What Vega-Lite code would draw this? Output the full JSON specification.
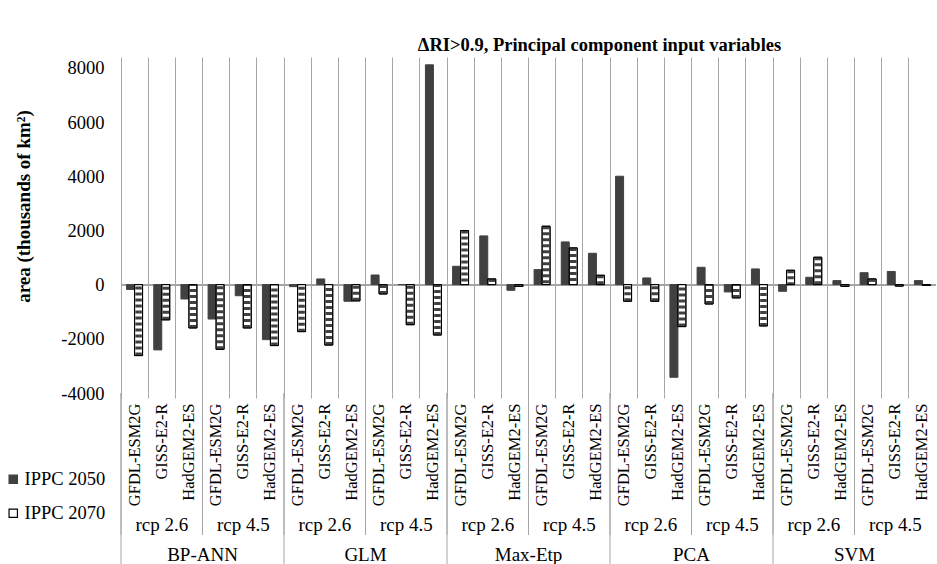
{
  "$schema": "https://vega.github.io/schema/vega-lite/v6.json",
  "width": 815,
  "height": 336,
  "autosize": {"type": "none"},
  "padding": {"left": 121, "top": 57, "right": 1, "bottom": 171},
  "background": "white",
  "title": {
    "text": "ΔRI>0.9, Principal component input variables",
    "font": "Liberation Serif, Times New Roman, serif",
    "fontSize": 18.5,
    "fontWeight": "bold",
    "color": "black",
    "anchor": "middle",
    "frame": "group",
    "dx": 71,
    "offset": 3
  },
  "data": {
    "values": [
      {"m": "BP-ANN", "r": "rcp 2.6", "g": "GFDL-ESM2G", "k": "BP-ANN|rcp 2.6|GFDL-ESM2G", "IPPC 2050": -180, "IPPC 2070": -2620},
      {"m": "BP-ANN", "r": "rcp 2.6", "g": "GISS-E2-R", "k": "BP-ANN|rcp 2.6|GISS-E2-R", "IPPC 2050": -2410, "IPPC 2070": -1300},
      {"m": "BP-ANN", "r": "rcp 2.6", "g": "HadGEM2-ES", "k": "BP-ANN|rcp 2.6|HadGEM2-ES", "IPPC 2050": -530, "IPPC 2070": -1600},
      {"m": "BP-ANN", "r": "rcp 4.5", "g": "GFDL-ESM2G", "k": "BP-ANN|rcp 4.5|GFDL-ESM2G", "IPPC 2050": -1270, "IPPC 2070": -2390},
      {"m": "BP-ANN", "r": "rcp 4.5", "g": "GISS-E2-R", "k": "BP-ANN|rcp 4.5|GISS-E2-R", "IPPC 2050": -410, "IPPC 2070": -1600},
      {"m": "BP-ANN", "r": "rcp 4.5", "g": "HadGEM2-ES", "k": "BP-ANN|rcp 4.5|HadGEM2-ES", "IPPC 2050": -2030, "IPPC 2070": -2250},
      {"m": "GLM", "r": "rcp 2.6", "g": "GFDL-ESM2G", "k": "GLM|rcp 2.6|GFDL-ESM2G", "IPPC 2050": -75, "IPPC 2070": -1735},
      {"m": "GLM", "r": "rcp 2.6", "g": "GISS-E2-R", "k": "GLM|rcp 2.6|GISS-E2-R", "IPPC 2050": 210, "IPPC 2070": -2230},
      {"m": "GLM", "r": "rcp 2.6", "g": "HadGEM2-ES", "k": "GLM|rcp 2.6|HadGEM2-ES", "IPPC 2050": -615, "IPPC 2070": -600},
      {"m": "GLM", "r": "rcp 4.5", "g": "GFDL-ESM2G", "k": "GLM|rcp 4.5|GFDL-ESM2G", "IPPC 2050": 355, "IPPC 2070": -345},
      {"m": "GLM", "r": "rcp 4.5", "g": "GISS-E2-R", "k": "GLM|rcp 4.5|GISS-E2-R", "IPPC 2050": 0, "IPPC 2070": -1480},
      {"m": "GLM", "r": "rcp 4.5", "g": "HadGEM2-ES", "k": "GLM|rcp 4.5|HadGEM2-ES", "IPPC 2050": 8110, "IPPC 2070": -1860},
      {"m": "Max-Etp", "r": "rcp 2.6", "g": "GFDL-ESM2G", "k": "Max-Etp|rcp 2.6|GFDL-ESM2G", "IPPC 2050": 677, "IPPC 2070": 1995},
      {"m": "Max-Etp", "r": "rcp 2.6", "g": "GISS-E2-R", "k": "Max-Etp|rcp 2.6|GISS-E2-R", "IPPC 2050": 1797, "IPPC 2070": 210},
      {"m": "Max-Etp", "r": "rcp 2.6", "g": "HadGEM2-ES", "k": "Max-Etp|rcp 2.6|HadGEM2-ES", "IPPC 2050": -210, "IPPC 2070": -70},
      {"m": "Max-Etp", "r": "rcp 4.5", "g": "GFDL-ESM2G", "k": "Max-Etp|rcp 4.5|GFDL-ESM2G", "IPPC 2050": 554, "IPPC 2070": 2155},
      {"m": "Max-Etp", "r": "rcp 4.5", "g": "GISS-E2-R", "k": "Max-Etp|rcp 4.5|GISS-E2-R", "IPPC 2050": 1575, "IPPC 2070": 1355},
      {"m": "Max-Etp", "r": "rcp 4.5", "g": "HadGEM2-ES", "k": "Max-Etp|rcp 4.5|HadGEM2-ES", "IPPC 2050": 1157, "IPPC 2070": 345},
      {"m": "PCA", "r": "rcp 2.6", "g": "GFDL-ESM2G", "k": "PCA|rcp 2.6|GFDL-ESM2G", "IPPC 2050": 4000, "IPPC 2070": -615},
      {"m": "PCA", "r": "rcp 2.6", "g": "GISS-E2-R", "k": "PCA|rcp 2.6|GISS-E2-R", "IPPC 2050": 246, "IPPC 2070": -615},
      {"m": "PCA", "r": "rcp 2.6", "g": "HadGEM2-ES", "k": "PCA|rcp 2.6|HadGEM2-ES", "IPPC 2050": -3420, "IPPC 2070": -1550},
      {"m": "PCA", "r": "rcp 4.5", "g": "GFDL-ESM2G", "k": "PCA|rcp 4.5|GFDL-ESM2G", "IPPC 2050": 640, "IPPC 2070": -715},
      {"m": "PCA", "r": "rcp 4.5", "g": "GISS-E2-R", "k": "PCA|rcp 4.5|GISS-E2-R", "IPPC 2050": -270, "IPPC 2070": -490},
      {"m": "PCA", "r": "rcp 4.5", "g": "HadGEM2-ES", "k": "PCA|rcp 4.5|HadGEM2-ES", "IPPC 2050": 578, "IPPC 2070": -1525},
      {"m": "SVM", "r": "rcp 2.6", "g": "GFDL-ESM2G", "k": "SVM|rcp 2.6|GFDL-ESM2G", "IPPC 2050": -246, "IPPC 2070": 530},
      {"m": "SVM", "r": "rcp 2.6", "g": "GISS-E2-R", "k": "SVM|rcp 2.6|GISS-E2-R", "IPPC 2050": 270, "IPPC 2070": 1010},
      {"m": "SVM", "r": "rcp 2.6", "g": "HadGEM2-ES", "k": "SVM|rcp 2.6|HadGEM2-ES", "IPPC 2050": 148, "IPPC 2070": -70},
      {"m": "SVM", "r": "rcp 4.5", "g": "GFDL-ESM2G", "k": "SVM|rcp 4.5|GFDL-ESM2G", "IPPC 2050": 440, "IPPC 2070": 210},
      {"m": "SVM", "r": "rcp 4.5", "g": "GISS-E2-R", "k": "SVM|rcp 4.5|GISS-E2-R", "IPPC 2050": 485, "IPPC 2070": -55},
      {"m": "SVM", "r": "rcp 4.5", "g": "HadGEM2-ES", "k": "SVM|rcp 4.5|HadGEM2-ES", "IPPC 2050": 148, "IPPC 2070": -30}
    ]
  },
  "config": {
    "view": {"stroke": null},
    "font": "Liberation Serif, Times New Roman, serif",
    "axisX": {
      "bandPosition": 0,
      "grid": true,
      "gridColor": "#a6a6a6",
      "gridWidth": 1,
      "ticks": true,
      "tickColor": "#a6a6a6",
      "tickSize": 5,
      "domain": false,
      "labelAngle": 270,
      "labelAlign": "right",
      "labelBaseline": "middle",
      "labelPadding": 5,
      "labelFont": "Liberation Serif, Times New Roman, serif",
      "labelFontSize": 16.5,
      "labelColor": "black",
      "labelExpr": "split(datum.label, '|')[2]",
      "labelOverlap": false,
      "labelBound": false,
      "labelFlush": false,
      "title": null
    },
    "axisY": {
      "grid": false,
      "domain": false,
      "ticks": false,
      "labelFont": "Liberation Serif, Times New Roman, serif",
      "labelFontSize": 18.5,
      "labelColor": "black",
      "labelPadding": 17,
      "titleFont": "Liberation Serif, Times New Roman, serif",
      "titleFontSize": 19,
      "titleFontWeight": "bold",
      "titleColor": "black",
      "titlePadding": 27,
      "titleY": 149
    }
  },
  "layer": [
    {
      "mark": {"type": "rule", "color": "#a6a6a6", "strokeWidth": 1},
      "encoding": {"y": {"datum": 0, "type": "quantitative"}}
    },
    {
      "transform": [{"fold": ["IPPC 2050", "IPPC 2070"], "as": ["s", "v"]}],
      "mark": {"type": "bar", "strokeWidth": 1},
      "encoding": {
        "x": {
          "field": "k",
          "type": "nominal",
          "title": null,
          "scale": {
            "paddingInner": 0,
            "paddingOuter": 0,
            "domain": [
              "BP-ANN|rcp 2.6|GFDL-ESM2G", "BP-ANN|rcp 2.6|GISS-E2-R", "BP-ANN|rcp 2.6|HadGEM2-ES",
              "BP-ANN|rcp 4.5|GFDL-ESM2G", "BP-ANN|rcp 4.5|GISS-E2-R", "BP-ANN|rcp 4.5|HadGEM2-ES",
              "GLM|rcp 2.6|GFDL-ESM2G", "GLM|rcp 2.6|GISS-E2-R", "GLM|rcp 2.6|HadGEM2-ES",
              "GLM|rcp 4.5|GFDL-ESM2G", "GLM|rcp 4.5|GISS-E2-R", "GLM|rcp 4.5|HadGEM2-ES",
              "Max-Etp|rcp 2.6|GFDL-ESM2G", "Max-Etp|rcp 2.6|GISS-E2-R", "Max-Etp|rcp 2.6|HadGEM2-ES",
              "Max-Etp|rcp 4.5|GFDL-ESM2G", "Max-Etp|rcp 4.5|GISS-E2-R", "Max-Etp|rcp 4.5|HadGEM2-ES",
              "PCA|rcp 2.6|GFDL-ESM2G", "PCA|rcp 2.6|GISS-E2-R", "PCA|rcp 2.6|HadGEM2-ES",
              "PCA|rcp 4.5|GFDL-ESM2G", "PCA|rcp 4.5|GISS-E2-R", "PCA|rcp 4.5|HadGEM2-ES",
              "SVM|rcp 2.6|GFDL-ESM2G", "SVM|rcp 2.6|GISS-E2-R", "SVM|rcp 2.6|HadGEM2-ES",
              "SVM|rcp 4.5|GFDL-ESM2G", "SVM|rcp 4.5|GISS-E2-R", "SVM|rcp 4.5|HadGEM2-ES"
            ]
          }
        },
        "xOffset": {
          "field": "s",
          "type": "nominal",
          "scale": {"domain": ["IPPC 2050", "IPPC 2070"], "paddingInner": 0, "paddingOuter": 0.7}
        },
        "y": {
          "field": "v",
          "type": "quantitative",
          "title": "area (thousands of km²)",
          "scale": {"domain": [-4000, 8400], "nice": false, "zero": false},
          "axis": {"values": [-4000, -2000, 0, 2000, 4000, 6000, 8000], "labelExpr": "toString(datum.value)"}
        },
        "fill": {
          "field": "s",
          "type": "nominal",
          "scale": {"domain": ["IPPC 2050", "IPPC 2070"], "range": ["#404040", "#ffffff"]},
          "legend": {
            "orient": "none", "legendX": -117, "legendY": 413, "title": null,
            "symbolType": "square", "symbolSize": 70, "symbolStrokeWidth": 1.2,
            "labelFont": "Liberation Serif, Times New Roman, serif", "labelFontSize": 18.5, "labelColor": "black",
            "rowPadding": 15, "labelOffset": 2
          }
        },
        "stroke": {
          "field": "s",
          "type": "nominal",
          "scale": {"domain": ["IPPC 2050", "IPPC 2070"], "range": ["#404040", "#000000"]},
          "legend": {
            "orient": "none", "legendX": -117, "legendY": 413, "title": null,
            "symbolType": "square", "symbolSize": 70, "symbolStrokeWidth": 1.2,
            "labelFont": "Liberation Serif, Times New Roman, serif", "labelFontSize": 18.5, "labelColor": "black",
            "rowPadding": 15, "labelOffset": 2
          }
        }
      }
    },
    {
      "transform": [
        {"fold": ["IPPC 2050", "IPPC 2070"], "as": ["s", "v"]},
        {"filter": "datum.s == 'IPPC 2070'"}
      ],
      "mark": {"type": "rule", "color": "#404040", "strokeWidth": 6.5, "strokeDash": [3, 3], "strokeCap": "butt"},
      "encoding": {
        "x": {"field": "k", "type": "nominal", "title": null, "bandPosition": 0.647},
        "y": {"field": "v", "type": "quantitative", "title": "area (thousands of km²)"},
        "y2": {"datum": 0}
      }
    },
    {
      "transform": [
        {"fold": ["IPPC 2050", "IPPC 2070"], "as": ["s", "v"]},
        {"filter": "datum.s == 'IPPC 2070'"}
      ],
      "mark": {"type": "bar", "fill": null, "fillOpacity": 0, "stroke": "black", "strokeWidth": 1},
      "encoding": {
        "x": {"field": "k", "type": "nominal", "title": null},
        "xOffset": {"field": "s", "type": "nominal"},
        "y": {"field": "v", "type": "quantitative", "title": "area (thousands of km²)"}
      }
    },
    {
      "transform": [{"filter": "datum.g == 'GFDL-ESM2G'"}],
      "mark": {"type": "rule", "color": "#a6a6a6", "strokeWidth": 1, "clip": false},
      "encoding": {
        "x": {"field": "k", "type": "nominal", "title": null, "bandPosition": 0},
        "y": {"datum": -4000, "type": "quantitative"},
        "y2": {"datum": -9240}
      }
    },
    {
      "transform": [{"filter": "datum.g == 'GFDL-ESM2G' && datum.r == 'rcp 2.6'"}],
      "mark": {"type": "rule", "color": "#a6a6a6", "strokeWidth": 1, "clip": false},
      "encoding": {
        "x": {"field": "k", "type": "nominal", "title": null, "bandPosition": 0},
        "y": {"datum": -4000, "type": "quantitative"},
        "y2": {"datum": -10320}
      }
    },
    {
      "transform": [{"filter": "datum.g == 'GISS-E2-R'"}],
      "mark": {"type": "text", "font": "Liberation Serif, Times New Roman, serif", "fontSize": 19, "color": "black", "baseline": "alphabetic", "align": "center", "clip": false},
      "encoding": {
        "x": {"field": "k", "type": "nominal", "title": null},
        "y": {"datum": -9093, "type": "quantitative"},
        "text": {"field": "r"}
      }
    },
    {
      "transform": [{"filter": "datum.g == 'GFDL-ESM2G' && datum.r == 'rcp 4.5'"}],
      "mark": {"type": "text", "font": "Liberation Serif, Times New Roman, serif", "fontSize": 19, "color": "black", "baseline": "alphabetic", "align": "center", "clip": false},
      "encoding": {
        "x": {"field": "k", "type": "nominal", "title": null, "bandPosition": 0},
        "y": {"datum": -10200, "type": "quantitative"},
        "text": {"field": "m"}
      }
    }
  ]
}
